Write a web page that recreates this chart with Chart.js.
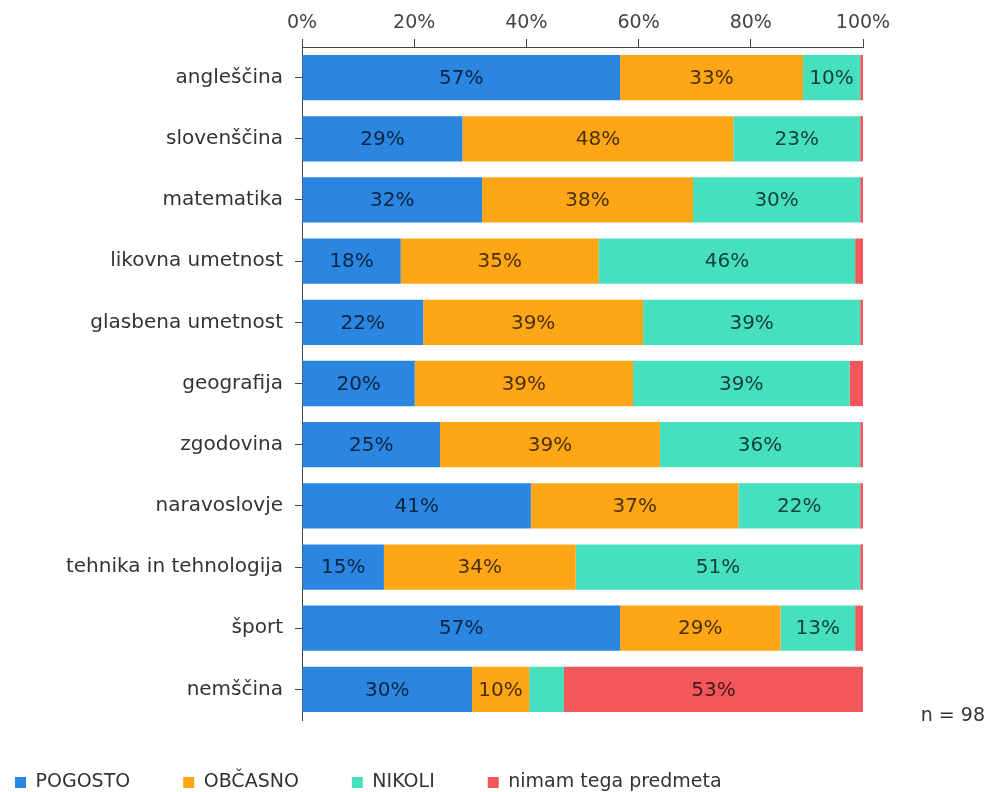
<!DOCTYPE html>
<html>
<head>
<meta charset="utf-8">
<script src="https://cdn.jsdelivr.net/npm/chart.js@4/dist/chart.umd.min.js"></script>
<style>
  body { margin: 0; background: #fff; }
  #wrap { width: 994px; height: 792px; }
</style>
</head>
<body>
<div id="wrap"><canvas id="chart" width="994" height="792"></canvas></div>
<script>
const categories = ['angleščina', 'slovenščina', 'matematika', 'likovna umetnost', 'glasbena umetnost',
  'geografija', 'zgodovina', 'naravoslovje', 'tehnika in tehnologija', 'šport', 'nemščina'];
const pogosto = [56.7, 28.6, 32.1, 17.6, 21.6, 20.1, 24.6, 40.8, 14.6, 56.7, 30.3];
const obcasno = [32.6, 48.3, 37.6, 35.3, 39.2, 38.9, 39.2, 37.0, 34.2, 28.6, 10.2];
const nikoli = [10.2, 22.6, 29.8, 45.7, 38.7, 38.6, 35.7, 21.7, 50.7, 13.3, 6.2];
const nimam = [0.5, 0.5, 0.5, 1.4, 0.5, 2.4, 0.5, 0.5, 0.5, 1.4, 53.3];
const seriesNames = ['POGOSTO', 'OBČASNO', 'NIKOLI', 'nimam tega predmeta'];
const xTicks = [0, 20, 40, 60, 80, 100];
const sampleNote = 'n = 98';

Chart.defaults.font.family = "'DejaVu Sans', Verdana, sans-serif";
Chart.defaults.color = '#333';

// percent labels inside the bars (only where the segment is wide enough)
const barLabels = {
  id: 'barLabels',
  afterDatasetsDraw(chart) {
    const ctx = chart.ctx;
    ctx.save();
    ctx.font = "20px 'DejaVu Sans', Verdana, sans-serif";
    ctx.fillStyle = 'rgba(0,0,0,0.72)';
    ctx.textAlign = 'center';
    ctx.textBaseline = 'middle';
    chart.data.datasets.forEach((ds, i) => {
      const meta = chart.getDatasetMeta(i);
      meta.data.forEach((bar, j) => {
        const v = ds.data[j];
        if (v < 8) return;
        const p = bar.getCenterPoint();
        ctx.fillText(Math.round(v) + '%', p.x, p.y + 1);
      });
    });
    ctx.restore();
  }
};

// "n = 98" note on the right
const note = {
  id: 'note',
  afterDraw(chart) {
    const ctx = chart.ctx;
    ctx.save();
    ctx.font = "19px 'DejaVu Sans', Verdana, sans-serif";
    ctx.fillStyle = '#333';
    ctx.textAlign = 'right';
    ctx.textBaseline = 'middle';
    ctx.fillText(sampleNote, 985, 716);
    ctx.restore();
  }
};

const ctx = document.getElementById('chart').getContext('2d');
new Chart(ctx, {
  type: 'bar',
  data: {
    labels: categories,
    datasets: [
      { label: seriesNames[0], data: pogosto, backgroundColor: '#2A86E0' },
      { label: seriesNames[1], data: obcasno, backgroundColor: '#FFA617' },
      { label: seriesNames[2], data: nikoli, backgroundColor: '#47E0BF' },
      { label: seriesNames[3], data: nimam, backgroundColor: '#F2575C' }
    ]
  },
  options: {
    indexAxis: 'y',
    responsive: false,
    animation: false,
    layout: { padding: { left: -38, right: 131, top: 0, bottom: -10 } },
    datasets: { bar: { categoryPercentage: 1, barPercentage: 0.74, borderWidth: 0 } },
    scales: {
      x: {
        position: 'top',
        stacked: true,
        min: 0,
        max: 100,
        afterFit: s => { s.height = 47; },
        afterBuildTicks: s => { s.ticks = xTicks.map(v => ({ value: v })); },
        ticks: { callback: v => v + '%', font: { size: 19 }, color: '#444', padding: 5, maxRotation: 0 },
        grid: { drawOnChartArea: false, drawTicks: true, tickLength: 8, color: '#444' },
        border: { display: true, color: '#444', width: 1 }
      },
      y: {
        stacked: true,
        afterFit: s => { s.width = 340; },
        ticks: { font: { size: 20 }, color: '#333', padding: 12 },
        grid: { offset: false, drawOnChartArea: false, drawTicks: true, tickLength: 7, color: '#444' },
        border: { display: true, color: '#444', width: 1 }
      }
    },
    plugins: {
      legend: {
        position: 'bottom',
        align: 'start',
        labels: { boxWidth: 11, boxHeight: 11, padding: 53, font: { size: 19 }, color: '#333' }
      },
      tooltip: { enabled: false }
    }
  },
  plugins: [barLabels, note]
});
</script>
</body>
</html>
